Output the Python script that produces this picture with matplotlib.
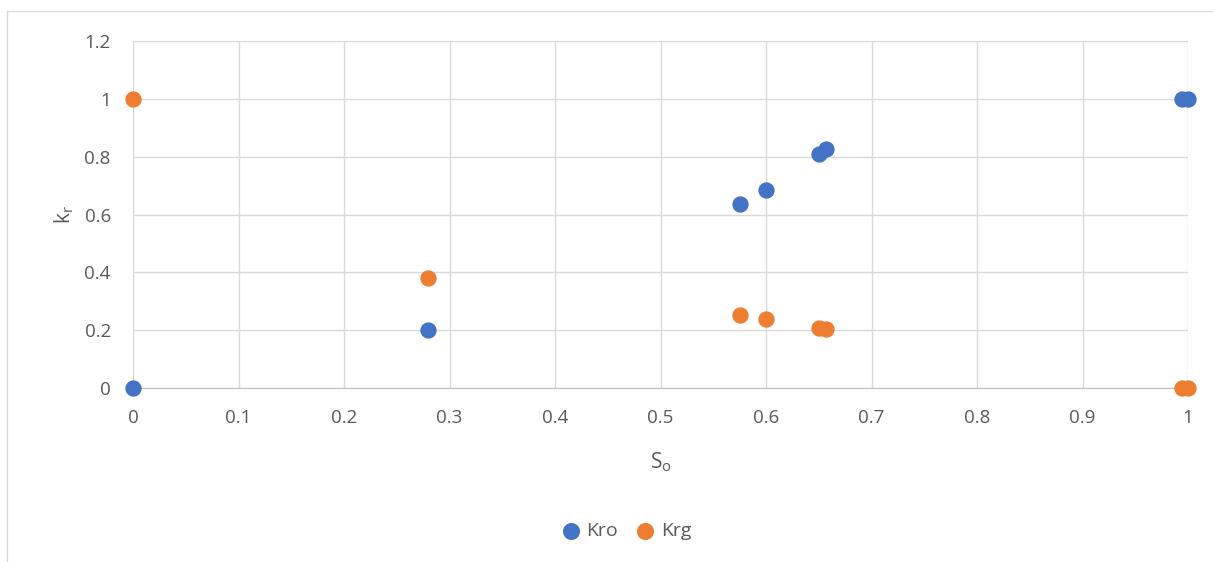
import matplotlib.pyplot as plt
import matplotlib.patches as patches

# Data
so = [0.0, 0.28, 0.575, 0.6, 0.65, 0.657, 0.994, 1.0]
kro = [0.0, 0.202, 0.636, 0.685, 0.808, 0.828, 1.0, 1.0]
krg = [1.0, 0.382, 0.252, 0.24, 0.209, 0.204, 0.0, 0.0]

plt.rcParams['font.family'] = ['Open Sans', 'DejaVu Sans']

fig = plt.figure(figsize=(12.13, 5.62), dpi=100)
ax = fig.add_axes([133 / 1213, 1 - 388 / 562, 1055 / 1213, 347 / 562])

# outer chart border
fig.patches.append(patches.Rectangle((7 / 1213, -0.01), 1.1, 1 - 11 / 562 + 0.01,
                                     transform=fig.transFigure, fill=False,
                                     edgecolor='#d9d9d9', linewidth=1))

ax.scatter(so, kro, s=115, color='#4472c4', label='Kro', zorder=3, clip_on=False)
ax.scatter(so, krg, s=115, color='#ed7d31', label='Krg', zorder=3, clip_on=False)

ax.set_xlim(0, 1)
ax.set_ylim(0, 1.2)
ax.set_xticks([i / 10 for i in range(11)])
ax.set_xticklabels(['0', '0.1', '0.2', '0.3', '0.4', '0.5', '0.6', '0.7', '0.8', '0.9', '1'])
ax.set_yticks([0, 0.2, 0.4, 0.6, 0.8, 1.0, 1.2])
ax.set_yticklabels(['0', '0.2', '0.4', '0.6', '0.8', '1', '1.2'])

ax.grid(True, color='#d9d9d9', linewidth=1)
ax.set_axisbelow(True)
for side in ['top', 'right', 'left']:
    ax.spines[side].set_visible(False)
ax.spines['bottom'].set_color('#bfbfbf')
ax.tick_params(axis='both', length=0, labelsize=13.5, labelcolor='#595959')
ax.tick_params(axis='x', pad=15)
ax.tick_params(axis='y', pad=16)

ax.set_xlabel('S$_\\mathregular{o}$', fontsize=15, color='#595959', labelpad=17)
ax.set_ylabel('k$_\\mathregular{r}$', fontsize=15, color='#595959', labelpad=6)

fig.legend(handles=ax.collections, labels=['Kro', 'Krg'], loc='center',
           bbox_to_anchor=(0.512, 1 - 531 / 562), ncol=2, frameon=False,
           fontsize=14, labelcolor='#595959', handletextpad=-0.2, columnspacing=0.4,
           markerscale=1.05)

plt.savefig('out.png', dpi=100)
